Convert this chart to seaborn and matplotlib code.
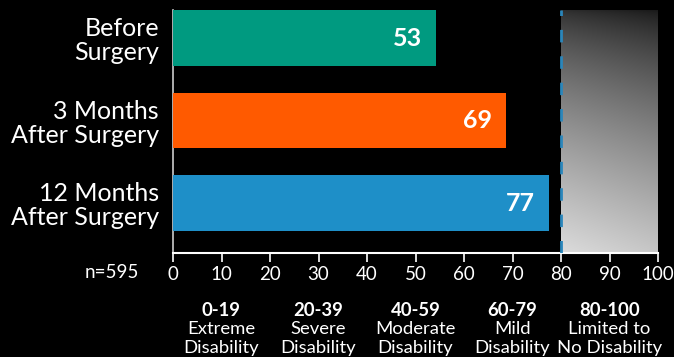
import numpy as np
import pandas as pd
import matplotlib
matplotlib.use("Agg")
import matplotlib.pyplot as plt
import matplotlib.transforms as mtransforms
import seaborn as sns

# ---- data ----
categories = ["Before\nSurgery", "3 Months\nAfter Surgery", "12 Months\nAfter Surgery"]
bar_values = [54.2, 68.7, 77.5]
value_labels = [53, 69, 77]
bar_colors = ["#009a80", "#ff5a00", "#1e8fc8"]
x_ticks = [0, 10, 20, 30, 40, 50, 60, 70, 80, 90, 100]
range_centers = [10, 30, 50, 70, 90]
range_titles = ["0-19", "20-39", "40-59", "60-79", "80-100"]
range_line1 = ["Extreme", "Severe", "Moderate", "Mild", "Limited to"]
range_line2 = ["Disability", "Disability", "Disability", "Disability", "No Disability"]
sample_note = "n=595"
threshold = 80

sns.set_theme(style="dark")
plt.rcParams["font.family"] = ["Lato", "DejaVu Sans"]

W, H = 674, 357
fig = plt.figure(figsize=(W / 100, H / 100), dpi=100, facecolor="black")
ax = fig.add_axes([173 / W, 1 - 253 / H, (658 - 173) / W, (253 - 10) / H])
ax.set_facecolor("black")

df = pd.DataFrame({"cat": categories, "val": bar_values})
sns.barplot(data=df, x="val", y="cat", hue="cat", palette=bar_colors,
            order=categories, hue_order=categories, width=0.674,
            legend=False, ax=ax, saturation=1, linewidth=0, zorder=3)

ylim = (2.605, -0.34)

# gradient region 80-100
ny, nx = 200, 60
v = np.linspace(0, 1, ny)[:, None]
h = np.linspace(0, 1, nx)[None, :]
gray = 0.10 + 0.68 * v ** 0.75 + 0.08 * (1 - h)
gray = np.clip(gray, 0, 1)
img = np.dstack([gray, gray, gray])
ax.imshow(img, extent=[threshold, 100, ylim[0], ylim[1]], origin="upper",
          aspect="auto", zorder=1, interpolation="bilinear")
ax.set_ylim(*ylim)
ax.set_xlim(0, 100)
ax.axvline(threshold, color="#2a86bb", lw=2.0, ls=(0, (4.5, 5)), zorder=4)

# bar value labels
for i, (val, lbl) in enumerate(zip(bar_values, value_labels)):
    ax.annotate(str(lbl), xy=(val, i), xytext=(-10, 0), textcoords="offset points",
                ha="right", va="center", color="white", fontsize=18,
                fontweight="bold", zorder=5)

# axes styling
ax.grid(False)
for s in ["top", "right"]:
    ax.spines[s].set_visible(False)
ax.spines["left"].set_color("#cccccc")
ax.spines["left"].set_linewidth(1.2)
ax.spines["bottom"].set_color("white")
ax.spines["bottom"].set_linewidth(1.5)
ax.set_xlabel("")
ax.set_ylabel("")
ax.set_xticks(x_ticks)
ax.set_xticklabels([str(t) for t in x_ticks])
ax.tick_params(axis="x", colors="white", labelcolor="white", labelsize=13.5,
               length=6.5, width=1.2, direction="out", pad=3, bottom=True)
ax.tick_params(axis="y", length=0, labelcolor="white", labelsize=18, pad=10)
for t in ax.get_yticklabels():
    t.set_horizontalalignment("right")
    t.set_linespacing(1.05)

# n note
fig.text(139 / W, 1 - 272 / H, sample_note, ha="right", va="center",
         color="white", fontsize=13.5)

# range labels below axis
trans = mtransforms.blended_transform_factory(ax.transData, fig.transFigure)
for cx, t0, t1, t2 in zip(range_centers, range_titles, range_line1, range_line2):
    ax.text(cx, 1 - 310 / H, t0, transform=trans, ha="center", va="center",
            color="white", fontsize=13.3, fontweight="bold", clip_on=False)
    ax.text(cx, 1 - 329 / H, t1, transform=trans, ha="center", va="center",
            color="white", fontsize=13.3, clip_on=False)
    ax.text(cx, 1 - 348 / H, t2, transform=trans, ha="center", va="center",
            color="white", fontsize=13.3, clip_on=False)

fig.savefig("out.png", dpi=100, facecolor="black")
